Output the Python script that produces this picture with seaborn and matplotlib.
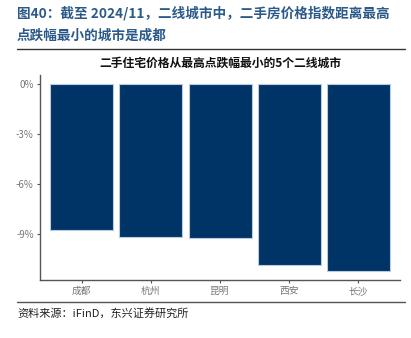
import matplotlib
matplotlib.use("Agg")
import matplotlib.pyplot as plt
import seaborn as sns
import pandas as pd
from matplotlib.lines import Line2D

cities = ["成都", "杭州", "昆明", "西安", "长沙"]
values = [-8.76, -9.16, -9.24, -10.86, -11.2]
yticks = [0, -3, -6, -9]
ytick_labels = ["0%", "-3%", "-6%", "-9%"]

sns.set_theme(style="white")
plt.rcParams['font.family'] = ['Noto Sans CJK SC', 'DejaVu Sans']

df = pd.DataFrame({"city": cities, "value": values})

fig = plt.figure(figsize=(4.11, 3.38), dpi=100)
ax = fig.add_axes([40/411, 1-280/338, 360/411, 205/338])

sns.barplot(data=df, x="city", y="value", color="#003366", saturation=1,
            width=0.91, edgecolor="#b8cce0", linewidth=0.8, ax=ax)

ax.set_xlim(-0.6, 4.6)
ax.set_ylim(-11.76, 0.54)
ax.set_yticks(yticks)
ax.set_yticklabels(ytick_labels)
ax.set_xlabel("")
ax.set_ylabel("")
for s in ["top", "right"]:
    ax.spines[s].set_visible(False)
for s in ["left", "bottom"]:
    ax.spines[s].set_color("#555555")
    ax.spines[s].set_linewidth(1.0)
ax.tick_params(axis="both", colors="#555555", labelcolor="#777777", labelsize=7,
               length=2.5, width=0.8, direction="out", left=True, bottom=True, pad=2)

fig.text(17/411, 1-13/338, "图40：截至 2024/11，二线城市中，二手房价格指数距离最高",
         fontsize=9.8, fontweight="bold", color="#2b5a8a", ha="left", va="center")
fig.text(17/411, 1-36/338, "点跌幅最小的城市是成都",
         fontsize=9.8, fontweight="bold", color="#2b5a8a", ha="left", va="center")
fig.add_artist(Line2D([17/411, 405/411], [1-49/338, 1-49/338], color="#333333", lw=1.0))

fig.text(220/411, 1-63/338, "二手住宅价格从最高点跌幅最小的5个二线城市",
         fontsize=8.5, fontweight="bold", color="#111111", ha="center", va="center")

fig.add_artist(Line2D([17/411, 405/411], [1-302/338, 1-302/338], color="#555555", lw=1.0))
fig.text(17/411, 1-313/338, "资料来源：iFinD，东兴证券研究所",
         fontsize=8, style="italic", color="#222222", ha="left", va="center")

fig.savefig("out.png", dpi=100)
